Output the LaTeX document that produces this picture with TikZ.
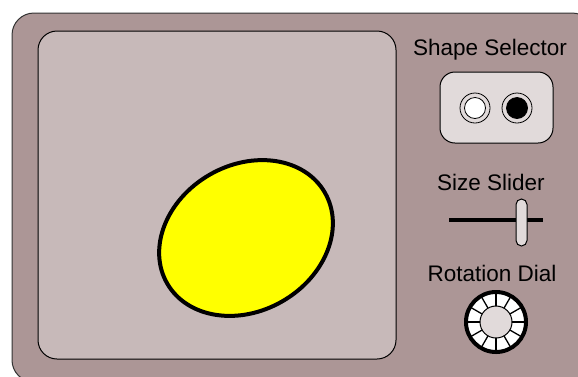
\documentclass[tikz,border=0pt]{standalone}
\usepackage{fontspec}
\setmainfont{Liberation Sans}
\usetikzlibrary{calc}
\definecolor{panel}{RGB}{172,150,150}
\definecolor{screen}{RGB}{199,185,185}
\definecolor{lightc}{RGB}{225,218,218}
\definecolor{shapeyellow}{RGB}{255,255,0}
\tikzset{
  lbl/.style={font=\fontsize{22.5}{24}\selectfont, inner sep=0pt, text=black},
}
\begin{document}
\begin{tikzpicture}[x=1pt,y=-1pt]
\useasboundingbox (0,0) rectangle (578,376);
% outer panel
\draw[fill=panel, draw=black!80, line width=1pt, rounded corners=22pt] (12,13) rectangle (594,382);
% screen
\draw[fill=screen, draw=black, line width=1pt, rounded corners=19pt] (38,31) rectangle (396,359);
% ellipse shape
\draw[fill=shapeyellow, draw=black, line width=4pt, rotate around={30:(246,238)}] (246,238) ellipse [x radius=91, y radius=73];
% labels
\node[lbl] (shapelbl) at (490,50) {Shape Selector};
\node[lbl] (sizelbl) at (491,182) {Size Slider};
\node[lbl] (rotlbl) at (492,273) {Rotation Dial};
% shape selector
\draw[fill=lightc, draw=black, line width=1pt, rounded corners=15pt] (440,72) rectangle (553,143);
\draw[fill=lightc, draw=black, line width=0.8pt] (475,108) circle [radius=15];
\draw[fill=white, draw=black, line width=0.8pt] (475,108) circle [radius=10.5];
\draw[fill=lightc, draw=black, line width=0.8pt] (517,108) circle [radius=15];
\draw[fill=black, draw=black, line width=0.8pt] (517,108) circle [radius=10.5];
% size slider
\coordinate (sl1) at (449,220);
\coordinate (sl2) at (543,220);
\draw[line width=3.5pt] (sl1) -- (sl2);
\draw[fill=lightc, draw=black, line width=1pt, rounded corners=5.5pt] (516,199) rectangle (527,246);
% rotation dial
\coordinate (dc) at (496,322);
\fill[white] (dc) circle [radius=30];
\foreach \a in {0,30,...,330}
  \draw[line width=1.3pt] ($(dc)+(\a:16)$) -- ($(dc)+(\a:30)$);
\draw[line width=4pt] (dc) circle [radius=30];
\draw[fill=lightc, draw=black, line width=1pt] (dc) circle [radius=16];
\end{tikzpicture}
\end{document}
